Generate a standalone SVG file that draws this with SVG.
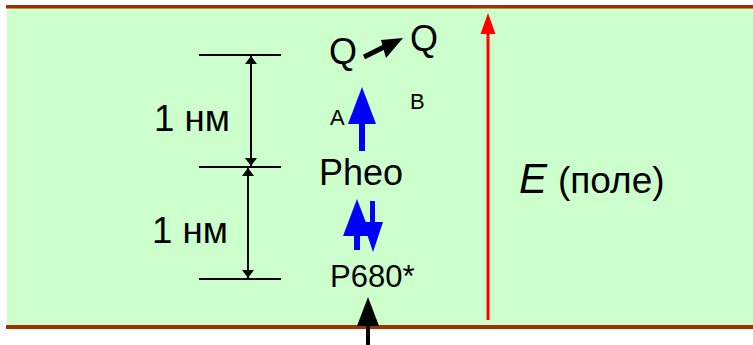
<svg xmlns="http://www.w3.org/2000/svg" width="753" height="345" viewBox="0 0 753 345">
<defs>
<style>
text{font-family:"Liberation Sans",Arial,sans-serif;fill:#000}
.dim{stroke:#000;stroke-width:2;fill:none}
.blue{fill:#0000ff}
</style>
<marker id="ah" viewBox="0 0 10 10" refX="10" refY="5" markerWidth="8" markerHeight="12" markerUnits="userSpaceOnUse" orient="auto-start-reverse" preserveAspectRatio="none">
<path d="M0,0 L10,5 L0,10 Z" fill="#000"/>
</marker>
</defs>
<rect width="753" height="345" fill="#fff"/>
<g id="membrane">
<rect x="7" y="8" width="746" height="317" fill="#ccffcc"/>
<rect x="6" y="5" width="747" height="3.5" fill="#993300"/>
<rect x="6" y="325" width="747" height="4" fill="#993300"/>
</g>
<g id="scale">
<line class="dim" x1="199" y1="55" x2="281" y2="55"/>
<line class="dim" x1="199" y1="167" x2="281" y2="167"/>
<line class="dim" x1="199" y1="279" x2="281" y2="279"/>
<text x="154" y="131" font-size="37" textLength="76" lengthAdjust="spacingAndGlyphs">1 нм</text>
<text x="152" y="243" font-size="37" textLength="76" lengthAdjust="spacingAndGlyphs">1 нм</text>
</g>
<g id="connectors">
<line class="dim" x1="251" y1="56" x2="251" y2="166" marker-start="url(#ah)" marker-end="url(#ah)"/>
<line class="dim" x1="248" y1="168" x2="248" y2="278" marker-start="url(#ah)" marker-end="url(#ah)"/>
<path d="M364,57 L384,47" stroke="#000" stroke-width="5" fill="none"/>
<polygon points="403,38 381,40 386,58" fill="#000"/>
<rect x="359" y="123" width="6" height="28" class="blue"/>
<polygon points="362,87 348,124 376,124" class="blue"/>
<rect x="354" y="234" width="6" height="16" class="blue"/>
<polygon points="357,199 343,236 371,236" class="blue"/>
<rect x="370" y="201" width="5" height="23" class="blue"/>
<polygon points="363,222 383,222 373,252" class="blue"/>
<rect x="366" y="324" width="4" height="21" fill="#000"/>
<polygon points="368,297 357,326 379,326" fill="#000"/>
<rect x="486.5" y="32" width="3" height="288" fill="#ff0000"/>
<polygon points="488,13 480.5,34 495.5,34" fill="#ff0000"/>
</g>
<g id="q">
<text x="329" y="64" font-size="36">Q</text>
<text x="410" y="51" font-size="36">Q</text>
</g>
<g id="labels">
<text x="330" y="125" font-size="22">A</text>
<text x="410" y="109" font-size="22">B</text>
</g>
<g id="pheo"><text x="319" y="185" font-size="36">Pheo</text></g>
<g id="p680"><text x="330" y="287" font-size="31">P680*</text></g>
<g id="field">
<text x="519" y="193" font-size="42" font-style="italic">E</text>
<text x="558" y="193" font-size="37">(поле)</text>
</g>
</svg>
